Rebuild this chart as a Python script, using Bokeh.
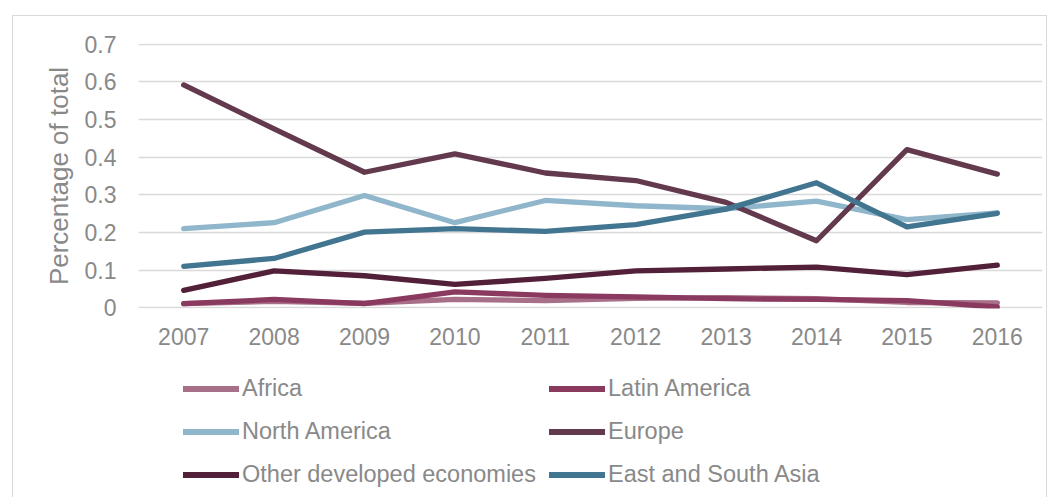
from bokeh.plotting import figure
from bokeh.layouts import column
from bokeh.models import (Range1d, FactorRange, Legend, LegendItem, FixedTicker,
                          CustomJSTickFormatter)
from bokeh.embed import file_html
from bokeh.resources import INLINE

years = ["2007", "2008", "2009", "2010", "2011", "2012", "2013", "2014", "2015", "2016"]
africa = [0.011, 0.017, 0.012, 0.022, 0.019, 0.025, 0.027, 0.024, 0.014, 0.013]
latin_america = [0.011, 0.022, 0.011, 0.042, 0.033, 0.029, 0.024, 0.022, 0.019, 0.002]
north_america = [0.210, 0.226, 0.298, 0.226, 0.285, 0.271, 0.263, 0.283, 0.234, 0.252]
europe = [0.592, 0.475, 0.360, 0.409, 0.358, 0.338, 0.280, 0.178, 0.420, 0.355]
other_developed = [0.046, 0.098, 0.085, 0.062, 0.078, 0.098, 0.103, 0.108, 0.088, 0.113]
east_south_asia = [0.110, 0.131, 0.201, 0.210, 0.203, 0.221, 0.262, 0.332, 0.215, 0.251]
y_ticks = [0, 0.1, 0.2, 0.3, 0.4, 0.5, 0.6, 0.7]

series = [
    ("Africa", africa, "#a86f88"),
    ("Latin America", latin_america, "#8b3a5f"),
    ("North America", north_america, "#8fb6cb"),
    ("Europe", europe, "#633a4d"),
    ("Other developed economies", other_developed, "#522039"),
    ("East and South Asia", east_south_asia, "#42758f"),
]
legend_col1 = ["Africa", "North America", "Other developed economies"]
legend_col2 = ["Latin America", "Europe", "East and South Asia"]

FONT = "Liberation Sans"
GRAY = "#898989"
LW = 5.3

# ---- main chart ----
p = figure(x_range=FactorRange(*years, range_padding=0), y_range=Range1d(-0.002, 0.702),
           frame_width=904, frame_height=265,
           min_border_left=125, min_border_right=4, min_border_top=27, min_border_bottom=50,
           output_backend="svg", toolbar_location=None)
p.background_fill_color = "white"
p.border_fill_color = "white"
p.outline_line_color = None

for name, vals, color in series:
    p.line(years, vals, line_color=color, line_width=LW, line_cap="round", line_join="round")

p.xgrid.grid_line_color = None
p.ygrid.grid_line_color = "#d9d9d9"
p.ygrid.grid_line_width = 1.3

for ax in (p.xaxis[0], p.yaxis[0]):
    ax.axis_line_color = None
    ax.major_tick_line_color = None
    ax.minor_tick_line_color = None
    ax.major_label_text_font = FONT
    ax.major_label_text_font_size = "23px"
    ax.major_label_text_color = GRAY

p.yaxis[0].ticker = FixedTicker(ticks=y_ticks)
p.yaxis[0].formatter = CustomJSTickFormatter(code="return tick == 0 ? '0' : tick.toFixed(1);")
p.yaxis[0].major_label_standoff = 16
p.yaxis[0].axis_label = "Percentage of total"
p.yaxis[0].axis_label_text_font = FONT
p.yaxis[0].axis_label_text_font_size = "26px"
p.yaxis[0].axis_label_text_font_style = "normal"
p.yaxis[0].axis_label_text_color = GRAY
p.yaxis[0].axis_label_standoff = 8
p.xaxis[0].major_label_standoff = 13

# ---- legend strip ----
q = figure(x_range=FactorRange(*years, range_padding=0), y_range=Range1d(10, 11),
           frame_width=1033, frame_height=140,
           min_border_left=0, min_border_right=0, min_border_top=0, min_border_bottom=0,
           x_axis_type=None, y_axis_type=None,
           output_backend="svg", toolbar_location=None)
q.background_fill_color = "white"
q.border_fill_color = "white"
q.outline_line_color = None
q.grid.grid_line_color = None

leg_r = {}
for name, vals, color in series:
    leg_r[name] = q.line(years, vals, line_color=color, line_width=5.8,
                         line_cap="round", line_join="round")


def make_legend(names, loc):
    lg = Legend(items=[LegendItem(label=n, renderers=[leg_r[n]]) for n in names],
                location=loc, orientation="vertical")
    lg.label_text_font = FONT
    lg.label_text_font_size = "23.5px"
    lg.label_text_color = GRAY
    lg.glyph_width = 56
    lg.glyph_height = 33
    lg.label_height = 33
    lg.label_standoff = 3
    lg.spacing = 10
    lg.padding = 0
    lg.margin = 0
    lg.border_line_color = None
    lg.background_fill_alpha = 0
    q.add_layout(lg, "center")


make_legend(legend_col1, (170, 7))
make_legend(legend_col2, (536, 7))

layout = column(p, q, spacing=0)
layout.margin = (15, 0, -20, 12)
layout.styles = {"border-top": "1px solid #d9d9d9", "border-left": "1px solid #d9d9d9",
                 "border-right": "1px solid #d9d9d9", "background": "white"}

open("out.html", "w").write(file_html(layout, INLINE))
